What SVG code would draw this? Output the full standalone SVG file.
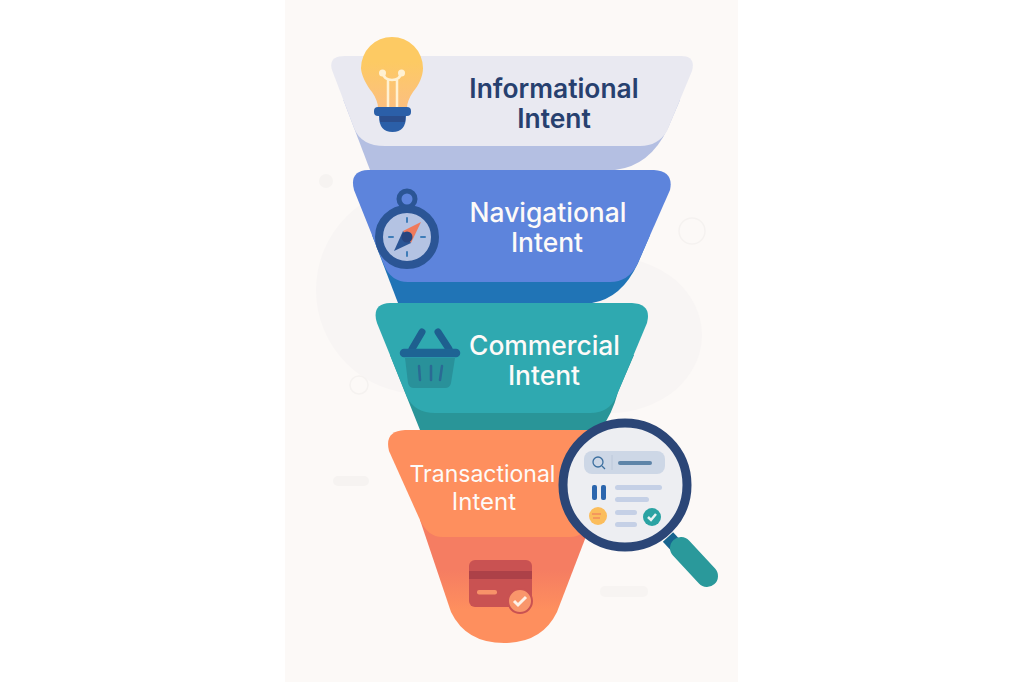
<svg xmlns="http://www.w3.org/2000/svg" width="1024" height="682" viewBox="0 0 1024 682">
<style>
.t{font-family:Inter,"Liberation Sans",sans-serif;font-size:26.400px;font-weight:500;text-anchor:middle;fill:#fdfaf8}
.d{fill:#27406f;font-weight:600}
.s{font-size:24px;font-weight:400}
.ln{fill:#c5d0e6}
</style>
<defs>
<linearGradient id="bulb" x1="0" y1="0" x2="0" y2="1"><stop offset=".35" stop-color="#fdca63"/><stop offset="1" stop-color="#fbbf80"/></linearGradient>
<linearGradient id="low" x1="0" y1="537" x2="0" y2="610" gradientUnits="userSpaceOnUse"><stop offset=".45" stop-color="#f57d62"/><stop offset="1" stop-color="#fe8f5e"/></linearGradient>
</defs>
<rect width="1024" height="682" fill="#fff"/>
<g id="background">
<rect x="285" y="0" width="453" height="682" fill="#fcf9f7"/>
<circle cx="420" cy="290" r="104" fill="#f8f5f4"/>
<ellipse cx="610" cy="335" rx="92" ry="78" fill="#f8f5f4"/>
<circle cx="326" cy="181" r="7" fill="#f6f3f1"/>
<circle cx="692" cy="231" r="13" fill="none" stroke="#f5f2f0" stroke-width="1.500"/>
<circle cx="359" cy="385" r="9" fill="none" stroke="#f5f2f0" stroke-width="1.500"/>
<rect x="333" y="476" width="36" height="10" rx="5" fill="#f6f3f1"/>
<rect x="600" y="586" width="48" height="11" rx="5" fill="#f7f4f2"/>
</g>
<g id="informational">
<path d="M343.400 100L370 170H615Q650 166 668 128L680 100Z" fill="#b4bfe2"/>
<path d="M345 56H681Q696 56 692 71L667 131Q658 146 640 146H385Q361 146 354 128L332 70Q328 56 345 56Z" fill="#e9e9f1"/>
<path d="M372 92C361 78 361 68 361 68A31 31 0 0 1 423 68C423 76 419 85 413 92C409 98 407 103 407 108H378C378 103 376 98 372 92Z" fill="url(#bulb)"/>
<path d="M388 107V80M397 107V80M383 73Q384 80 392 80Q400 80 401 73" fill="none" stroke="#fff1d2" stroke-width="2.500" stroke-linecap="round"/>
<circle cx="382.500" cy="73" r="3.500" fill="#fff1d2"/><circle cx="401.500" cy="73" r="3.500" fill="#fff1d2"/>
<rect x="374" y="107" width="37" height="9" rx="4" fill="#2b5fa8"/>
<path d="M379 116H406Q406 132 392.500 132Q379 132 379 116Z" fill="#2b5fa8"/>
<rect x="380" y="116" width="25" height="6" fill="#2a4d8c"/>
<text class="t d" x="554" y="98">Informational</text>
<text class="t d" x="554" y="128">Intent</text>
</g>
<g id="navigational">
<path d="M372 235L398 303H592Q622 298 638 263L650 235Z" fill="#2074b6"/>
<path d="M368 170H654Q674 171 670 190L637 265Q628 282 610 282H408Q391 282 384 265L354 190Q349 171 368 170Z" fill="#5d84dc"/>
<circle cx="407" cy="199" r="8" fill="none" stroke="#2b5595" stroke-width="5"/>
<circle cx="407" cy="237" r="28" fill="#b4c3e3" stroke="#2b5595" stroke-width="8"/>
<path d="M407 218v4M407 252v4M389 237h4M421 237h4" stroke="#3f7db8" stroke-width="2" stroke-linecap="round"/>
<path d="M421 222L411 243L403 231Z" fill="#f07a5c"/>
<path d="M394 251L403 231L411 243Z" fill="#2b5595"/>
<circle cx="407" cy="237" r="5.500" fill="#27457f"/>
<text class="t" x="548" y="222">Navigational</text>
<text class="t" x="547" y="252">Intent</text>
</g>
<g id="commercial">
<path d="M390 355L420 430H600Q612 415 618 392L634 355Z" fill="#299598"/>
<path d="M390 303H632Q652 304 647 323L616 397Q609 413 590 413H435Q415 413 407 397L377 323Q371 304 390 303Z" fill="#2fa9b0"/>
<path d="M405 358H455L451 383Q450 388 445 388H414Q409 388 408 383Z" fill="#29919a"/>
<path d="M422 332L412 349M438 332L449 349" stroke="#1e5f8f" stroke-width="7" stroke-linecap="round"/>
<path d="M404 353H456" stroke="#1e6494" stroke-width="8.500" stroke-linecap="round"/>
<path d="M419 366L420 380M431 366V380M442 366L440 380" stroke="#2a6a94" stroke-width="2.500" stroke-linecap="round"/>
<text class="t" x="544.500" y="355">Commercial</text>
<text class="t" x="544" y="385">Intent</text>
</g>
<g id="transactional">
<path d="M420 520L451 612Q466 643 504 643Q542 643 557 612L600 500Z" fill="url(#low)"/>
<path d="M405 430H610L590 520Q585 537 570 537H442Q428 537 420 520L389 451Q384 431 405 430Z" fill="#fe8f5e"/>
<rect x="469" y="560" width="63" height="47" rx="6" fill="#c95252"/>
<rect x="469" y="571" width="63" height="8" fill="#ad4148"/>
<rect x="477" y="590" width="20" height="4.500" rx="2" fill="#f79269"/>
<circle cx="520" cy="601" r="12" fill="#f9966b" stroke="#c95252" stroke-width="2"/>
<path d="M514 601l4 4 8-8" fill="none" stroke="#fdf2e8" stroke-width="3"/>
<text class="t s" x="482.500" y="482" font-size="23" style="font-size:23px">Transactional</text>
<text class="t s" x="484" y="510">Intent</text>
</g>
<g id="magnifier">
<path d="M668 537L680 550" stroke="#17648f" stroke-width="14"/>
<path d="M681 548L707 576" stroke="#2a999b" stroke-width="22" stroke-linecap="round"/>
<circle cx="625" cy="485" r="62" fill="#edeef2" stroke="#2b4677" stroke-width="9"/>
<rect x="584" y="451" width="81" height="23" rx="8" fill="#cdd7e6"/>
<circle cx="598" cy="462" r="5" fill="none" stroke="#3c6f9f" stroke-width="1.300"/>
<path d="M602 466l3 3" stroke="#3c6f9f" stroke-width="1.300"/>
<path d="M612 455v15" stroke="#bcc8da" stroke-width="1"/>
<rect x="618" y="461" width="34" height="4" rx="2" fill="#5d84a8"/>
<rect x="592" y="485" width="5" height="15" rx="2" fill="#2b65ad"/>
<rect x="601" y="485" width="5" height="15" rx="2" fill="#2b65ad"/>
<rect class="ln" x="615" y="485" width="47" height="5" rx="2.500"/>
<rect class="ln" x="615" y="497" width="34" height="5" rx="2.500"/>
<rect class="ln" x="615" y="510" width="22" height="5" rx="2.500"/>
<rect class="ln" x="615" y="522" width="22" height="5" rx="2.500"/>
<circle cx="598" cy="516" r="9" fill="#fbbd5c"/>
<path d="M592 514h9M593 518h7" stroke="#f4985c" stroke-width="2"/>
<circle cx="652" cy="517" r="9" fill="#2aa3a3"/>
<path d="M648 517l3 3 5-6" fill="none" stroke="#e8f3f3" stroke-width="2.500"/>
</g>
</svg>
